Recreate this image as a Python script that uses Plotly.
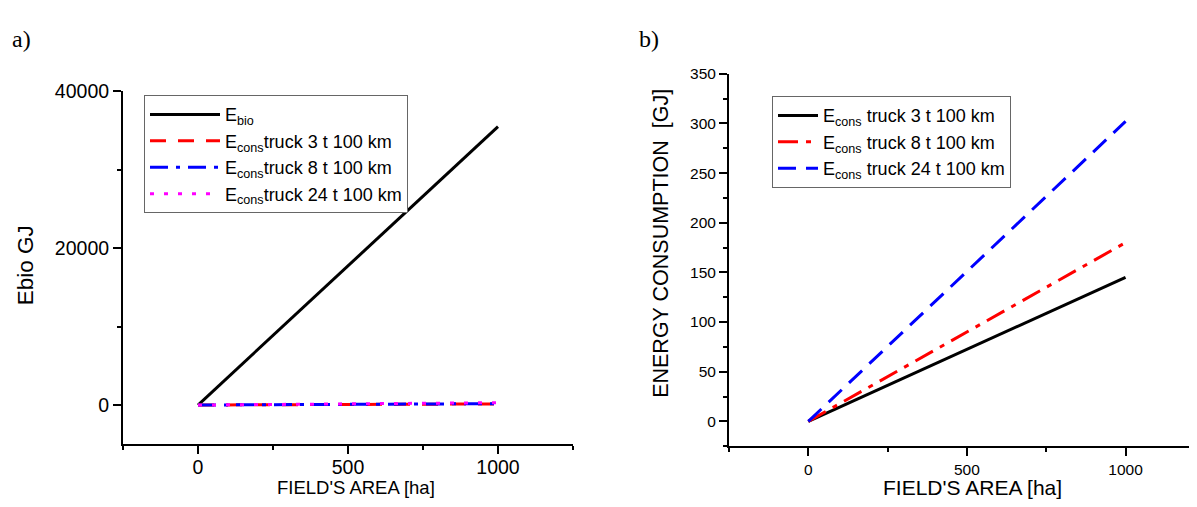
import plotly.graph_objects as go

# ---------------- data ----------------
field_area = [0, 1000]                 # ha
e_bio = [0, 35500]                     # GJ
e_truck_3t = [0, 145]                  # GJ
e_truck_8t = [0, 180]                  # GJ
e_truck_24t = [0, 302]                 # GJ

x_ticks = [0, 500, 1000]
ya_ticks = [0, 20000, 40000]
yb_ticks = [0, 50, 100, 150, 200, 250, 300, 350]

SANS = "Liberation Sans, Arial, sans-serif"
SERIF = "Liberation Serif, Times New Roman, serif"
PAGE_MARGIN = 8                         # default body margin of the html page
W, H = 1197 - 2 * PAGE_MARGIN, 507 - 2 * PAGE_MARGIN

fig = go.Figure()

# ---------- panel a ----------
fig.add_trace(go.Scatter(x=field_area, y=e_bio, mode="lines",
                         name="E<sub>bio</sub>",
                         line=dict(color="black", width=3),
                         xaxis="x", yaxis="y", legend="legend"))
fig.add_trace(go.Scatter(x=field_area, y=e_truck_3t, mode="lines",
                         name="E<sub>cons</sub>truck 3 t 100 km",
                         line=dict(color="#ff0000", width=3, dash="16px,12px"),
                         xaxis="x", yaxis="y", legend="legend"))
fig.add_trace(go.Scatter(x=field_area, y=e_truck_8t, mode="lines",
                         name="E<sub>cons</sub>truck 8 t 100 km",
                         line=dict(color="#0000ff", width=3, dash="18px,8px,4px,8px"),
                         xaxis="x", yaxis="y", legend="legend"))
fig.add_trace(go.Scatter(x=field_area, y=e_truck_24t, mode="lines",
                         name="E<sub>cons</sub>truck 24 t 100 km",
                         line=dict(color="#ff00ff", width=3, dash="4px,10px"),
                         xaxis="x", yaxis="y", legend="legend"))

# ---------- panel b ----------
fig.add_trace(go.Scatter(x=field_area, y=e_truck_3t, mode="lines",
                         name="E<sub>cons</sub> truck 3 t 100 km",
                         line=dict(color="black", width=3),
                         xaxis="x2", yaxis="y2", legend="legend2"))
fig.add_trace(go.Scatter(x=field_area, y=e_truck_8t, mode="lines",
                         name="E<sub>cons</sub> truck 8 t 100 km",
                         line=dict(color="#ff0000", width=3, dash="20px,8px,5px,8px"),
                         xaxis="x2", yaxis="y2", legend="legend2"))
fig.add_trace(go.Scatter(x=field_area, y=e_truck_24t, mode="lines",
                         name="E<sub>cons</sub> truck 24 t 100 km",
                         line=dict(color="#0000ff", width=3, dash="18px,10px"),
                         xaxis="x2", yaxis="y2", legend="legend2"))

def px_x(p):
    return (p - PAGE_MARGIN) / W

def px_y(p):
    return 1 - (p - PAGE_MARGIN) / H

axis_common = dict(showgrid=False, zeroline=False, showline=True,
                   linecolor="black", linewidth=2, ticks="outside",
                   ticklen=8, tickwidth=2, tickcolor="black",
                   tickformat="d", fixedrange=True)

fig.update_layout(
    width=W, height=H,
    margin=dict(l=0, r=0, t=0, b=0),
    paper_bgcolor="white", plot_bgcolor="white",
    font=dict(family=SANS, color="black"),
    showlegend=True,
    xaxis=dict(axis_common, domain=[px_x(123), px_x(573)], range=[-250, 1250],
               tickvals=x_ticks, anchor="y", ticklabelstandoff=-4,
               tickfont=dict(size=19.5, family=SANS),
               minor=dict(dtick=250, tick0=-250, ticks="outside", ticklen=4,
                          tickwidth=2, tickcolor="black")),
    yaxis=dict(axis_common, domain=[px_y(443), px_y(82)], range=[-5000, 40000],
               tickvals=ya_ticks, anchor="x",
               tickfont=dict(size=19.5, family=SANS),
               minor=dict(dtick=10000, tick0=0, ticks="outside", ticklen=4,
                          tickwidth=2, tickcolor="black")),
    xaxis2=dict(axis_common, domain=[px_x(729), 1.0], range=[-250, 1200],
                tickvals=x_ticks, anchor="y2",
                tickfont=dict(size=15.5, family=SANS),
                minor=dict(dtick=250, tick0=-250, ticks="outside", ticklen=4,
                           tickwidth=2, tickcolor="black")),
    yaxis2=dict(axis_common, domain=[px_y(445), px_y(64)], range=[-25, 350],
                tickvals=yb_ticks, anchor="x2",
                tickfont=dict(size=15.5, family=SANS),
                minor=dict(dtick=25, tick0=0, ticks="outside", ticklen=4,
                           tickwidth=2, tickcolor="black")),
    legend=dict(x=px_x(144), y=px_y(86), xanchor="left", yanchor="top",
                bgcolor="white", bordercolor="#666666", borderwidth=1,
                font=dict(size=18, family=SANS), itemwidth=70,
                tracegroupgap=0),
    legend2=dict(x=px_x(772), y=px_y(87), xanchor="left", yanchor="top",
                 bgcolor="white", bordercolor="#666666", borderwidth=1,
                 font=dict(size=18, family=SANS), itemwidth=40,
                 tracegroupgap=0),
)

annotations = [
    dict(text="a)", x=px_x(10), y=px_y(28), xanchor="left", yanchor="middle",
         font=dict(family=SERIF, size=24)),
    dict(text="b)", x=px_x(637), y=px_y(28), xanchor="left", yanchor="middle",
         font=dict(family=SERIF, size=24)),
    dict(text="FIELD'S AREA [ha]", x=px_x(356), y=px_y(487), xanchor="center",
         yanchor="middle", font=dict(size=18.5, family=SANS)),
    dict(text="FIELD'S AREA [ha]", x=px_x(972), y=px_y(487), xanchor="center",
         yanchor="middle", font=dict(size=21, family=SANS)),
    dict(text="Ebio GJ", x=px_x(25), y=px_y(260), xanchor="center",
         yanchor="middle", textangle=-90, font=dict(size=22.5, family=SANS)),
    dict(text="ENERGY CONSUMPTION&nbsp;&nbsp;[GJ]", x=px_x(661), y=px_y(238),
         xanchor="center", yanchor="middle", textangle=-90,
         font=dict(size=21.5, family=SANS)),
]
for a in annotations:
    a.update(xref="paper", yref="paper", showarrow=False)
fig.update_layout(annotations=annotations)

fig.write_html("out.html")
